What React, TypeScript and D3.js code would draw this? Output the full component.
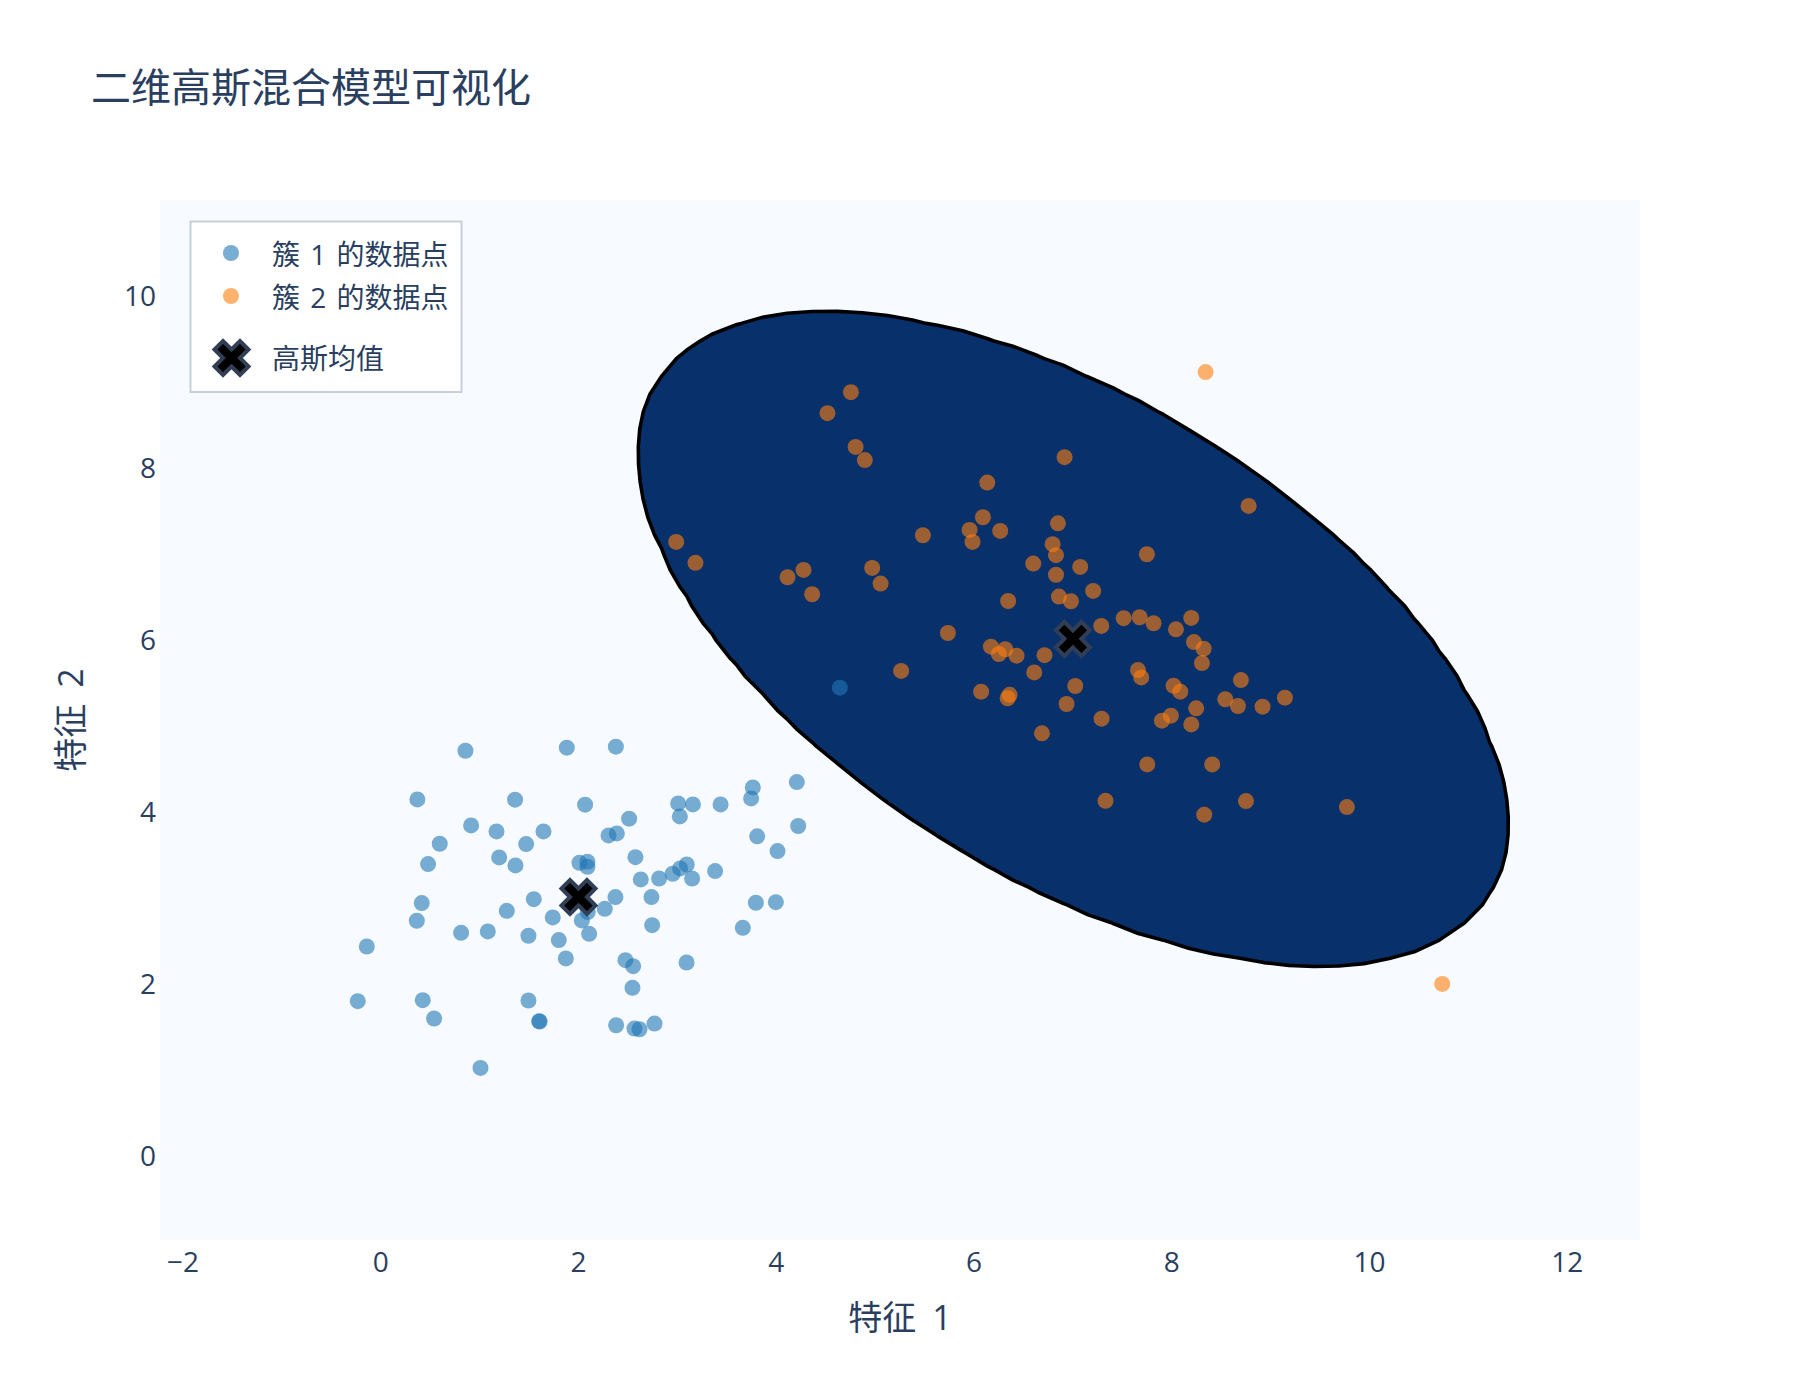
import React, { useMemo } from 'react';
import * as d3 from 'd3';

// ---------- data ----------
const cluster1X = [0.857, 1.882, 2.378, 0.371, 1.359, 2.067, 3.763, 3.746, 4.208, 3.008, 3.157, 3.437, 3.025, 2.512, 2.304, 2.388, 0.914, 1.171, 1.646, 0.597, 1.471, 4.222, 3.807, 4.013, 0.479, 1.198, 1.363, 2.010, 2.091, 2.091, 2.576, 2.630, 2.815, 2.953, 3.028, 3.095, 3.149, 3.382, 0.415, 0.365, 1.275, 1.548, 2.374, 2.738, 2.266, 2.094, 2.034, 1.740, 2.108, 2.745, 3.794, 3.996, 3.662, 0.813, 1.083, 1.494, 1.801, 1.872, -0.141, 2.475, 2.553, 3.093, 2.546, -0.232, 0.425, 0.540, 1.494, 1.602, 1.607, 2.381, 2.566, 2.617, 2.769, 1.009, 4.643];
const cluster1Y = [4.700, 4.735, 4.747, 4.134, 4.131, 4.073, 4.274, 4.146, 4.336, 4.088, 4.076, 4.076, 3.937, 3.910, 3.716, 3.739, 3.832, 3.762, 3.762, 3.619, 3.615, 3.825, 3.705, 3.534, 3.383, 3.460, 3.367, 3.398, 3.409, 3.351, 3.463, 3.204, 3.215, 3.270, 3.332, 3.378, 3.215, 3.301, 2.929, 2.724, 2.839, 2.975, 2.999, 2.999, 2.863, 2.825, 2.728, 2.763, 2.572, 2.673, 2.933, 2.940, 2.642, 2.584, 2.600, 2.550, 2.499, 2.286, 2.425, 2.266, 2.196, 2.239, 1.944, 1.789, 1.801, 1.588, 1.797, 1.557, 1.552, 1.510, 1.471, 1.463, 1.529, 1.014, 5.433];

const cluster2X = [4.755, 4.518, 4.802, 4.896, 6.134, 6.090, 5.955, 5.985, 6.265, 5.483, 2.988, 3.183, 4.114, 4.276, 4.363, 4.970, 5.055, 6.345, 8.342, 6.916, 8.777, 6.849, 6.795, 6.829, 6.599, 7.074, 6.829, 7.748, 7.205, 6.859, 6.980, 7.287, 7.513, 7.675, 7.816, 8.042, 8.197, 8.224, 8.322, 8.305, 6.430, 6.713, 6.609, 7.024, 6.936, 7.290, 6.687, 7.658, 7.691, 8.018, 8.086, 8.699, 8.541, 8.669, 8.918, 9.144, 8.247, 7.991, 7.900, 8.197, 7.752, 8.409, 7.330, 8.750, 8.328, 9.771, 5.736, 6.171, 6.316, 6.251, 5.263, 6.072, 6.340, 6.360, 10.735];
const cluster2Y = [8.867, 8.623, 8.231, 8.078, 7.816, 7.413, 7.266, 7.127, 7.254, 7.204, 7.127, 6.883, 6.716, 6.801, 6.518, 6.824, 6.642, 6.440, 9.100, 8.111, 7.545, 7.343, 7.100, 6.973, 6.875, 6.836, 6.745, 6.983, 6.557, 6.491, 6.437, 6.150, 6.240, 6.251, 6.181, 6.111, 6.243, 5.963, 5.886, 5.719, 5.805, 5.810, 5.610, 5.452, 5.243, 5.072, 4.902, 5.637, 5.552, 5.455, 5.386, 5.521, 5.298, 5.220, 5.212, 5.317, 5.193, 5.107, 5.049, 5.006, 4.541, 4.541, 4.118, 4.115, 3.957, 4.045, 6.068, 5.909, 5.879, 5.824, 5.627, 5.386, 5.310, 5.350, 1.990];

const meansX = [2, 7];
const meansY = [3, 6];

// Gaussian component whose density contour is drawn
const contourMean = [7, 6];
const contourCov = [[1.9, -0.937], [-0.937, 1.42]];
const contourMahalanobis2 = 10.15;

const xTicks = [-2, 0, 2, 4, 6, 8, 10, 12];
const yTicks = [0, 2, 4, 6, 8, 10];
const legendLabels = ['簇 1 的数据点', '簇 2 的数据点', '高斯均值'];
const chartTitle = '二维高斯混合模型可视化';
const xTitle = '特征 1';
const yTitle = '特征 2';

// ---------- layout ----------
const W = 1800;
const H = 1400;
const M = { l: 160, r: 160, t: 200, b: 160 };
const TEXT = '#2a3f5f';
const FONT = '"Open Sans", "Noto Sans CJK SC", sans-serif';
const BLUE = '#1f77b4';
const ORANGE = '#ff7f0e';

function xPath(r: number) {
  const rx = Math.round((r * 0.8) / Math.SQRT2 * 100) / 100;
  const ne = `l${rx},${rx}`, se = `l${rx},-${rx}`, sw = `l-${rx},-${rx}`, nw = `l-${rx},${rx}`;
  return `M0,${rx}${ne}${se}${sw}${se}${sw}${nw}${sw}${nw}${ne}${nw}${ne}Z`;
}

export default function App() {
  const allX = [...cluster1X, ...cluster2X];
  const allY = [...cluster1Y, ...cluster2Y];
  const xDom: [number, number] = [d3.min(allX)! - 2, d3.max(allX)! + 2];
  const yDom: [number, number] = [d3.min(allY)! - 2, d3.max(allY)! + 2];
  const x = d3.scaleLinear().domain(xDom).range([M.l, W - M.r]);
  const y = d3.scaleLinear().domain(yDom).range([H - M.b, M.t]);

  const contourPath = useMemo(() => {
    const nx = 60, ny = 60;
    const dx = (xDom[1] - xDom[0]) / (nx - 1);
    const dy = (yDom[1] - yDom[0]) / (ny - 1);
    const [[a, b], [, c]] = contourCov;
    const det = a * c - b * b;
    const inv = [[c / det, -b / det], [-b / det, a / det]];
    const norm = 1 / (2 * Math.PI * Math.sqrt(det));
    const pdf = (px: number, py: number) => {
      const u = px - contourMean[0], v = py - contourMean[1];
      const q = inv[0][0] * u * u + 2 * inv[0][1] * u * v + inv[1][1] * v * v;
      return norm * Math.exp(-q / 2);
    };
    const values = new Array(nx * ny);
    for (let j = 0; j < ny; j++) {
      for (let i = 0; i < nx; i++) {
        values[j * nx + i] = pdf(xDom[0] + i * dx, yDom[0] + j * dy);
      }
    }
    const level = norm * Math.exp(-contourMahalanobis2 / 2);
    const geo = d3.contours().size([nx, ny]).thresholds([level])(values)[0];
    const proj = d3.geoTransform({
      point(gx: number, gy: number) {
        (this as any).stream.point(
          x(xDom[0] + (gx - 0.5) * dx),
          y(yDom[0] + (gy - 0.5) * dy)
        );
      },
    });
    return d3.geoPath(proj)(geo as any) || '';
  }, []);

  const pts1 = cluster1X.map((v, i) => [v, cluster1Y[i]]);
  const pts2 = cluster2X.map((v, i) => [v, cluster2Y[i]]);
  const xMarker = xPath(15);

  const legendX = 190.5, legendY = 221.5, legendW = 271, legendH = 170.5;
  const legendRows = [254, 297, 358];

  return (
    <svg width={W} height={H} style={{ position: 'absolute', left: 0, top: 0, display: 'block', background: '#fff' }} fontFamily={FONT}>
      <rect x={0} y={0} width={W} height={H} fill="#fff" />
      <text x={91} y={86} fontSize={40} fill={TEXT} dominantBaseline="central">{chartTitle}</text>

      {/* plot area (lowest contour colour) */}
      <rect x={M.l} y={M.t} width={W - M.l - M.r} height={H - M.t - M.b} fill="#f7fbff" />
      <clipPath id="plotclip">
        <rect x={M.l} y={M.t} width={W - M.l - M.r} height={H - M.t - M.b} />
      </clipPath>
      <g clipPath="url(#plotclip)">
        <path d={contourPath} fill="#08306b" stroke="#000" strokeWidth={3.6} strokeLinejoin="round" />
        {pts1.map((p, i) => (
          <circle key={'a' + i} cx={x(p[0])} cy={y(p[1])} r={8} fill={BLUE} fillOpacity={0.6} />
        ))}
        {pts2.map((p, i) => (
          <circle key={'b' + i} cx={x(p[0])} cy={y(p[1])} r={8} fill={ORANGE} fillOpacity={0.6} />
        ))}
        {meansX.map((mx, i) => (
          <path key={'m' + i} d={xMarker} transform={`translate(${x(mx)},${y(meansY[i])})`} fill="#000" stroke="#323e56" strokeWidth={4} />
        ))}
      </g>

      {/* axes tick labels */}
      {xTicks.map((t) => (
        <text key={'xt' + t} x={x(t)} y={1261} fontSize={28} fill={TEXT} textAnchor="middle" dominantBaseline="central">
          {t < 0 ? '\u2212' + Math.abs(t) : String(t)}
        </text>
      ))}
      {yTicks.map((t) => (
        <text key={'yt' + t} x={156} y={y(t)} fontSize={28} fill={TEXT} textAnchor="end" dominantBaseline="central">
          {String(t)}
        </text>
      ))}
      <text x={(M.l + W - M.r) / 2} y={1317} fontSize={34} fill={TEXT} textAnchor="middle" dominantBaseline="central" style={{ wordSpacing: '7px' }}>{xTitle}</text>
      <text x={0} y={0} fontSize={34} fill={TEXT} textAnchor="middle" dominantBaseline="central" style={{ wordSpacing: '7px' }} transform={`translate(70,${(M.t + H - M.b) / 2}) rotate(-90)`}>{yTitle}</text>

      {/* legend */}
      <rect x={legendX} y={legendY} width={legendW} height={legendH} fill="#fff" stroke="#c8cfdb" strokeWidth={2} />
      <circle cx={231} cy={legendRows[0] - 1} r={8} fill={BLUE} fillOpacity={0.6} />
      <circle cx={231} cy={legendRows[1] - 1} r={8} fill={ORANGE} fillOpacity={0.6} />
      <path d={xMarker} transform={`translate(231.5,${legendRows[2]})`} fill="#000" stroke="#323e56" strokeWidth={4} />
      {legendLabels.map((l, i) => (
        <text key={l} x={272} y={legendRows[i]} fontSize={28} fill={TEXT} dominantBaseline="central" style={{ wordSpacing: '3px' }}>{l}</text>
      ))}
    </svg>
  );
}
